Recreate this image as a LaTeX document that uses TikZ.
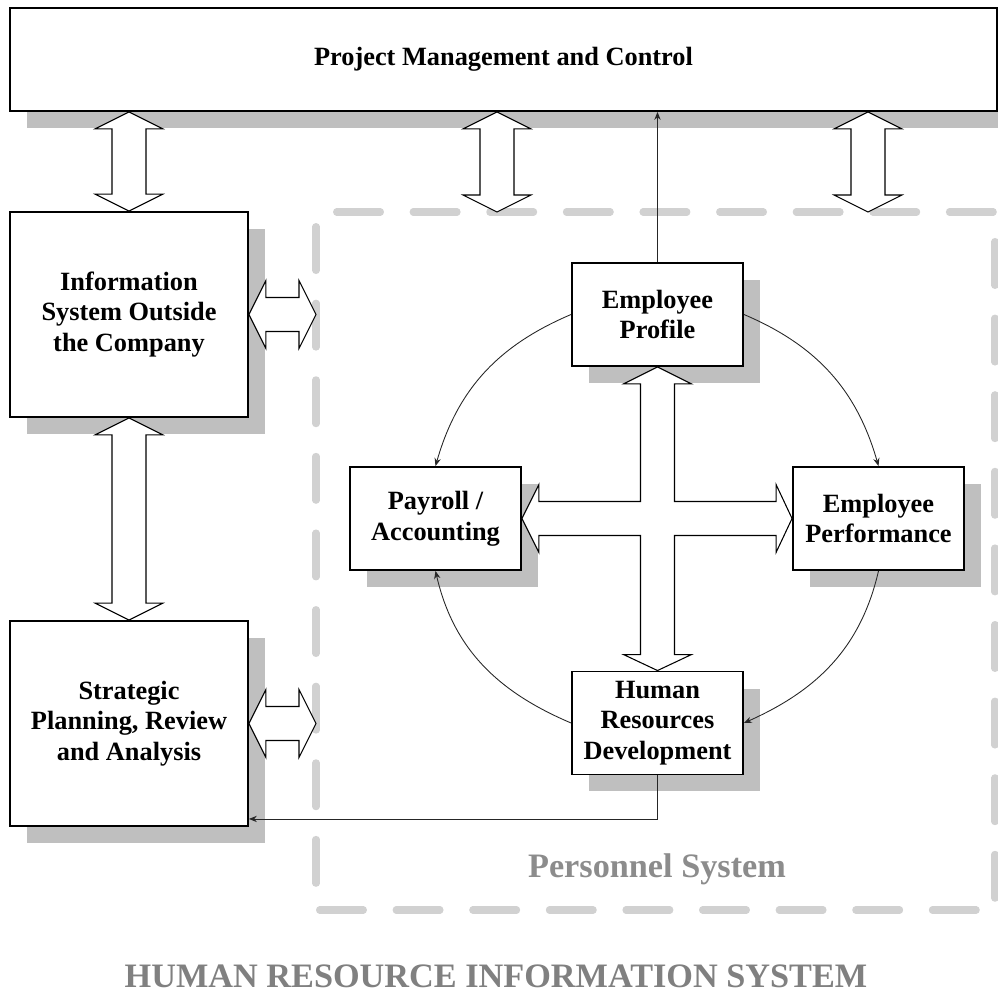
\documentclass[tikz,border=0pt]{standalone}
\usepackage{fontspec}
\setmainfont{Liberation Serif}
\usetikzlibrary{calc,shadows,arrows.meta}

\tikzset{
  box/.style={draw, line width=1.1pt, fill=white, align=center, inner sep=2pt,
    font=\bfseries\fontsize{15}{17.5}\selectfont,
    drop shadow={shadow xshift=0.34cm, shadow yshift=-0.34cm, opacity=1, fill=black!25}},
  small/.style={box, minimum width=3.42cm, minimum height=2.06cm},
  big/.style={box, minimum width=4.76cm, minimum height=4.1cm},
  fat/.style={draw, line width=0.6pt, fill=white, line join=miter},
  flow/.style={draw=black!85, line width=0.5pt, -{Stealth[length=4.5pt,width=3.6pt]}},
  frame/.style={draw=black!18, line width=4pt, line cap=round, dash pattern=on 25pt off 18.6pt},
  caption/.style={font=\bfseries\fontsize{19.5}{23}\selectfont, anchor=base}
}

% hollow double arrows: \vfat{top}{bottom}, \hfat{left}{right}
\newcommand{\vfat}[2]{\draw[fat] (#1) -- ++(34,-17) -- ++(-17,0) -- ($(#2)+(17,17)$) -- ++(17,0) -- (#2)
  -- ++(-34,17) -- ++(17,0) -- ($(#1)+(-17,-17)$) -- ++(-17,0) -- cycle;}
\newcommand{\hfat}[2]{\draw[fat] (#1) -- ++(17,34) -- ++(0,-17) -- ($(#2)+(-17,17)$) -- ++(0,17) -- (#2)
  -- ++(-17,-34) -- ++(0,17) -- ($(#1)+(17,-17)$) -- ++(0,-17) -- cycle;}

\begin{document}
\begin{tikzpicture}[x=0.02cm,y=0.02cm]
\useasboundingbox (0,0) rectangle (998,994);

% personnel system frame, each side with its own dash phase
\coordinate (ps-nw) at (316,782);
\coordinate (ps-se) at (995,84);
\coordinate (ps-ne) at (ps-se |- ps-nw);
\coordinate (ps-sw) at (ps-nw |- ps-se);
\draw[frame, dash phase=31.9pt] (ps-nw) -- (ps-ne);
\draw[frame, dash phase=35.3pt] (ps-nw) -- (ps-sw);
\draw[frame, dash phase=41.6pt] (ps-sw) -- (ps-se);
\draw[frame, dash phase=26.8pt] (ps-ne) -- (ps-se);
\node[caption, text=black!45] (ps) at (657,116) {Personnel System};

\node[box, minimum width=19.74cm, minimum height=2.06cm] (pm) at (503.5,934.5) {Project Management and Control};
\node[big] (info) at (129,679.5) {Information\\System Outside\\the Company};
\node[big] (strat) at (129,270.5) {Strategic\\Planning, Review\\and Analysis};

\node[small] (prof) at (657.5,679.5) {Employee\\Profile};
\node[small] (pay) at (435.5,475.5) {Payroll /\\Accounting};
\node[small] (perf) at (878.5,475.5) {Employee\\Performance};
\node[small] (hrd) at (657.5,271) {Human\\Resources\\Development};

% links to the management box and between the left boxes
\coordinate (t1) at (info.north |- pm.south);
\coordinate (t2) at (497,782);
\coordinate (t3) at (868,782);
\vfat{t1}{info.north}
\foreach \t in {t2,t3}{
  \coordinate (s) at (\t |- pm.south);
  \vfat{s}{\t}
}
\vfat{info.south}{strat.north}
\coordinate (e1) at (info.east -| ps-nw);
\coordinate (e2) at (strat.east -| ps-nw);
\hfat{info.east}{e1}
\hfat{strat.east}{e2}

% the cross in the middle
\coordinate (hub) at (prof.south |- pay.east);
\draw[fat] (prof.south) -- ++(34,-17) -- ++(-17,0) -- ($(hub)+(17,17)$) -- ($(perf.west)+(-16,17)$)
  -- ++(0,17) -- (perf.west) -- ++(-16,-34) -- ++(0,17) -- ($(hub)+(17,-17)$)
  -- ($(hrd.north)+(17,16)$) -- ++(17,0) -- (hrd.north) -- ++(-34,16) -- ++(17,0)
  -- ($(hub)+(-17,-17)$) -- ($(pay.east)+(17,-17)$) -- ++(0,-17) -- (pay.east)
  -- ++(17,34) -- ++(0,-17) -- ($(hub)+(-17,17)$) -- ($(prof.south)+(-17,-17)$) -- ++(-17,0) -- cycle;

% cycle round the personnel system
\draw[flow] (prof.west) to[out=203, in=74] (pay.north);
\draw[flow] (prof.east) to[out=-23, in=106] (perf.north);
\draw[flow] (perf.south) to[out=-103, in=24] (hrd.east);
\draw[flow] (hrd.west) to[out=157, in=-77] (pay.south);

\draw[flow] (prof.north) -- (prof.north |- pm.south);
\draw[flow] (hrd.south) |- ($(strat.south east)+(0,8)$);

\node[caption, text=black!50] (title) at (496,6) {HUMAN RESOURCE INFORMATION SYSTEM};
\end{tikzpicture}
\end{document}
